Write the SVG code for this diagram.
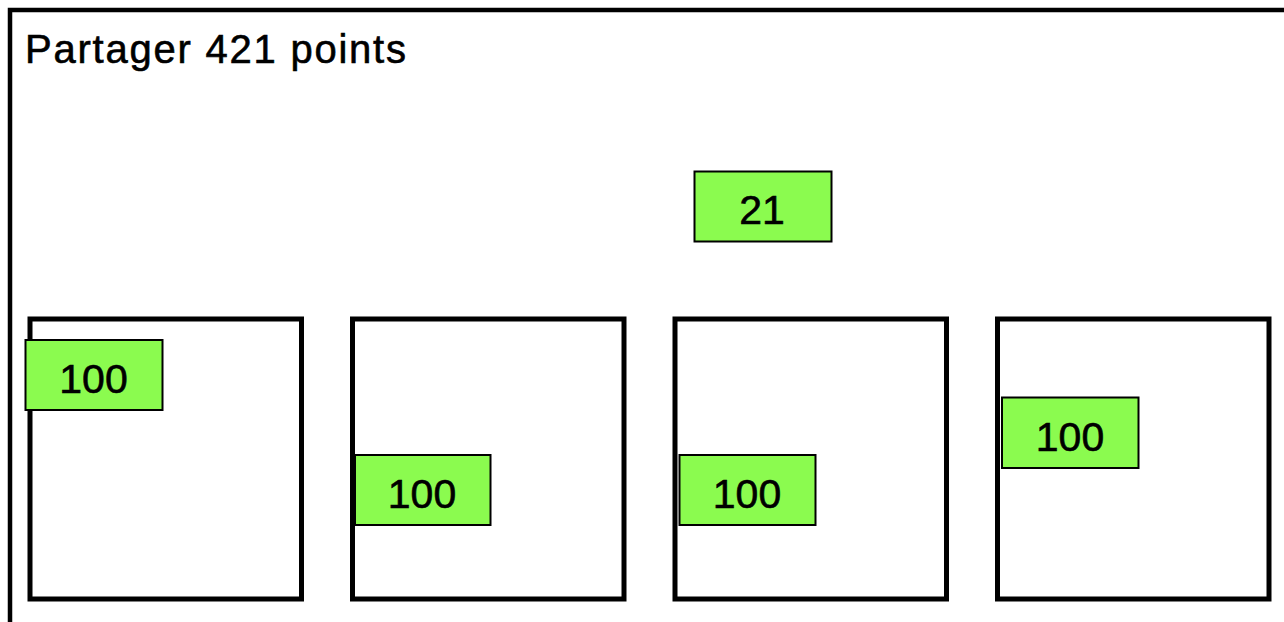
<svg xmlns="http://www.w3.org/2000/svg" width="1284" height="622" viewBox="0 0 1284 622">
<style>
.frame{fill:none;stroke:#000;stroke-width:4.5}
.bin{fill:#fff;stroke:#000;stroke-width:5}
.chip{fill:#8bfb4f;stroke:#000;stroke-width:2}
.lbl{font-family:"Liberation Sans",Arial,sans-serif;font-size:41px;fill:#000;stroke:#000;stroke-width:0.6;text-anchor:middle}
.title{font-family:"Liberation Sans",Arial,sans-serif;font-size:40px;fill:#000;stroke:#000;stroke-width:0.6}
</style>
<rect width="1284" height="622" fill="#fff"/>
<g id="frame">
<rect class="frame" x="10" y="10" width="1300" height="640"/>
<text class="title" x="25" y="63" textLength="381" lengthAdjust="spacing">Partager 421 points</text>
</g>
<g id="bin1"><rect class="bin" x="30" y="319" width="271.5" height="280"/></g>
<g id="bin2"><rect class="bin" x="352.5" y="319" width="271.5" height="280"/></g>
<g id="bin3"><rect class="bin" x="675" y="319" width="271.5" height="280"/></g>
<g id="bin4"><rect class="bin" x="997.5" y="319" width="271.5" height="280"/></g>
<g id="chip21"><rect class="chip" x="694.5" y="171.5" width="137" height="70"/><text class="lbl" x="762" y="224">21</text></g>
<g id="chip1"><rect class="chip" x="25.5" y="340" width="137" height="70"/><text class="lbl" x="93.5" y="393">100</text></g>
<g id="chip2"><rect class="chip" x="355" y="455" width="135.5" height="70"/><text class="lbl" x="422" y="508">100</text></g>
<g id="chip3"><rect class="chip" x="679.5" y="455" width="136" height="70"/><text class="lbl" x="747" y="508">100</text></g>
<g id="chip4"><rect class="chip" x="1002" y="397.5" width="136.5" height="70.5"/><text class="lbl" x="1070" y="451">100</text></g>
</svg>
